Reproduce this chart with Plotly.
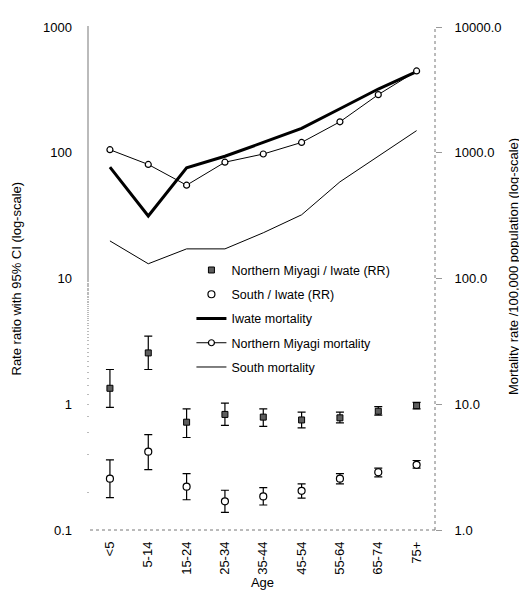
import plotly.graph_objects as go

ages = ["<5", "5-14", "15-24", "25-34", "35-44", "45-54", "55-64", "65-74", "75+"]

# Rate ratios (left axis)
nm_rr = [1.34, 2.56, 0.72, 0.83, 0.79, 0.75, 0.78, 0.88, 0.975]
nm_hi = [1.89, 3.48, 0.92, 1.02, 0.92, 0.865, 0.865, 0.957, 1.035]
nm_lo = [0.946, 1.89, 0.544, 0.68, 0.667, 0.65, 0.71, 0.82, 0.918]

s_rr = [0.256, 0.42, 0.221, 0.169, 0.185, 0.205, 0.256, 0.288, 0.33]
s_hi = [0.361, 0.574, 0.281, 0.207, 0.217, 0.233, 0.281, 0.311, 0.357]
s_lo = [0.181, 0.302, 0.174, 0.138, 0.158, 0.179, 0.233, 0.265, 0.311]

# Mortality rates per 100,000 (right axis)
iwate_mort = [769, 314, 760, 938, 1208, 1563, 2240, 3213, 4418]
nmiyagi_mort = [1057, 807, 552, 841, 977, 1208, 1762, 2898, 4470]
south_mort = [199, 131, 172, 172, 231, 321, 587, 938, 1499]

left_ticks = [0.1, 1, 10, 100, 1000]
left_ticktext = ["0.1", "1", "10", "100", "1000"]
right_ticks = [1, 10, 100, 1000, 10000]
right_ticktext = ["1.0", "10.0", "100.0", "1000.0", "10000.0"]

left_title = "Rate ratio with 95% CI (log-scale)"
right_title = "Mortality rate /100,000 population (log-scale)"

FONT = "Liberation Sans, Arial, sans-serif"

fig = go.Figure()

fig.add_trace(go.Scatter(
    x=ages, y=nm_rr, mode="markers", name="Northern Miyagi / Iwate (RR)",
    marker=dict(symbol="square", size=6, color="#5e5e5e", line=dict(color="black", width=1)),
    error_y=dict(type="data", symmetric=False,
                 array=[h - v for h, v in zip(nm_hi, nm_rr)],
                 arrayminus=[v - l for v, l in zip(nm_rr, nm_lo)],
                 color="black", thickness=1.2, width=4),
    legendgroup="a", yaxis="y"))

fig.add_trace(go.Scatter(
    x=ages, y=s_rr, mode="markers", name="South / Iwate (RR)",
    marker=dict(symbol="circle", size=7, color="white", line=dict(color="black", width=1.2)),
    error_y=dict(type="data", symmetric=False,
                 array=[h - v for h, v in zip(s_hi, s_rr)],
                 arrayminus=[v - l for v, l in zip(s_rr, s_lo)],
                 color="black", thickness=1.2, width=4),
    legendgroup="b", yaxis="y"))

fig.add_trace(go.Scatter(
    x=ages, y=iwate_mort, mode="lines", name="Iwate mortality",
    line=dict(color="black", width=3), legendgroup="c", yaxis="y2"))

fig.add_trace(go.Scatter(
    x=ages, y=nmiyagi_mort, mode="lines+markers", name="Northern Miyagi mortality",
    line=dict(color="black", width=1),
    marker=dict(symbol="circle", size=6, color="white", line=dict(color="black", width=1.2)),
    legendgroup="d", yaxis="y2"))

fig.add_trace(go.Scatter(
    x=ages, y=south_mort, mode="lines", name="South mortality",
    line=dict(color="black", width=1), legendgroup="e", yaxis="y2"))

# page body has an 8px margin, so the figure is sized 8px smaller
fig.update_layout(
    width=519, height=588,
    margin=dict(l=82, r=92, t=14, b=63),
    paper_bgcolor="white", plot_bgcolor="white",
    font=dict(family=FONT, size=13, color="black"),
    showlegend=True,
    legend=dict(x=0.294, y=0.546, xanchor="left", yanchor="top",
                bgcolor="rgba(0,0,0,0)", font=dict(size=12.5, family=FONT),
                traceorder="grouped", tracegroupgap=5, itemwidth=30),
    xaxis=dict(type="category", range=[-0.52, 8.48], tickangle=-90,
               showline=False, showgrid=False, ticks="", zeroline=False,
               tickfont=dict(size=13), ticklabelstandoff=8,
               title=dict(text="Age", font=dict(size=13), standoff=0)),
    yaxis=dict(type="log", range=[-1, 3], tickvals=left_ticks, ticktext=left_ticktext,
               showgrid=False, showline=False, zeroline=False,
               ticks="", ticklabelstandoff=17, tickfont=dict(size=13),
               minor=dict(ticks="outside", ticklen=2, tickcolor="#bbbbbb", showgrid=False)),
    yaxis2=dict(type="log", range=[0, 4], overlaying="y", side="right",
                tickvals=right_ticks, ticktext=right_ticktext,
                showgrid=False, showline=False, zeroline=False,
                ticks="outside", ticklen=6, tickcolor="#999999", tickfont=dict(size=13),
                ticklabelstandoff=10),
    annotations=[
        dict(text=left_title, xref="paper", yref="paper", x=-0.2116, y=0.5,
             xanchor="center", yanchor="middle", textangle=-90, showarrow=False,
             font=dict(size=13, family=FONT)),
        dict(text=right_title, xref="paper", yref="paper", x=1.228, y=0.524,
             xanchor="center", yanchor="middle", textangle=-90, showarrow=False,
             font=dict(size=13, family=FONT)),
    ],
)

# dotted frame lines (bottom and right axes)
fig.add_shape(type="line", xref="paper", yref="paper", x0=0, x1=1, y0=0, y1=0,
              line=dict(color="#777777", width=1, dash="dot"))
fig.add_shape(type="line", xref="paper", yref="paper", x0=1, x1=1, y0=0, y1=1,
              line=dict(color="#777777", width=1, dash="dot"))

fig.write_html("out.html")
